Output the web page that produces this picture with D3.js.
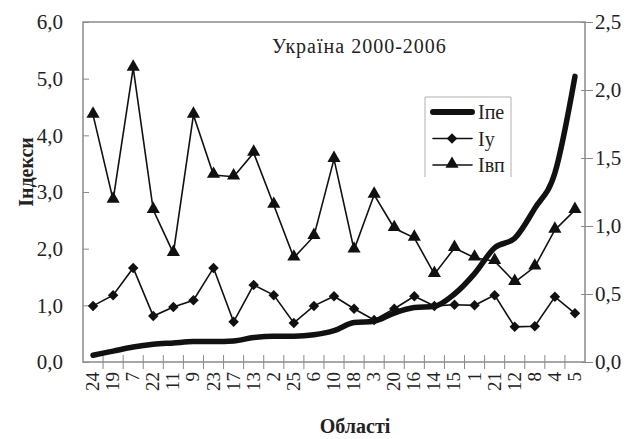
<!DOCTYPE html>
<html>
<head>
<meta charset="utf-8">
<script src="https://cdn.jsdelivr.net/npm/d3@7"></script>
<style>
  body { margin: 0; background: #fff; }
  text { font-family: "Liberation Serif", "Times New Roman", serif; fill: #222; }
</style>
</head>
<body>
<script>
// region codes in chart order
const regions = ["24","19","7","22","11","9","23","17","13","2","25","6","10","18","3","20","16","14","15","1","21","12","8","4","5"];
// Iпе, right axis
const ipe = [0.05,0.08,0.11,0.13,0.14,0.15,0.15,0.155,0.18,0.19,0.19,0.20,0.23,0.29,0.30,0.36,0.40,0.41,0.50,0.65,0.84,0.91,1.13,1.39,2.10];
// Iу, left axis
const iu = [0.99,1.18,1.66,0.81,0.97,1.09,1.66,0.71,1.36,1.18,0.69,0.99,1.16,0.94,0.74,0.94,1.16,0.99,1.01,1.0,1.18,0.62,0.63,1.15,0.86];
// Iвп, left axis
const ivp = [4.36,2.86,5.19,2.68,1.92,4.36,3.30,3.27,3.69,2.77,1.84,2.22,3.58,1.98,2.95,2.36,2.19,1.55,2.01,1.84,1.78,1.41,1.68,2.33,2.68];
const leftTicks = [0,1,2,3,4,5,6];
const rightTicks = [0,0.5,1,1.5,2,2.5];

const W = 630, H = 439;
const m = {left: 83, right: 45, top: 22, bottom: 77};

const svg = d3.select("body").append("svg").attr("width", W).attr("height", H);

const x = d3.scaleBand().domain(regions).range([m.left, W - m.right]);
const yL = d3.scaleLinear().domain([0, 6]).range([H - m.bottom, m.top]);
const yR = d3.scaleLinear().domain([0, 2.5]).range([H - m.bottom, m.top]);
const fmt = d => d3.format(".1f")(d).replace(".", ",");
const cx = d => x(d) + x.bandwidth() / 2;

// frame
svg.append("rect")
  .attr("x", m.left).attr("y", m.top)
  .attr("width", W - m.right - m.left).attr("height", H - m.bottom - m.top)
  .attr("fill", "none").attr("stroke", "#8a8a8a").attr("stroke-width", 1.5);

// left axis
const gl = svg.append("g").attr("transform", `translate(${m.left},0)`)
  .call(d3.axisLeft(yL).tickValues(leftTicks).tickFormat(fmt).tickSizeInner(6).tickSizeOuter(0).tickPadding(14));
gl.select(".domain").remove();
gl.selectAll(".tick line").attr("x2", 6).attr("stroke", "#8a8a8a");
gl.selectAll("text").attr("font-size", 21);

// right axis
const gr = svg.append("g").attr("transform", `translate(${W - m.right},0)`)
  .call(d3.axisRight(yR).tickValues(rightTicks).tickFormat(fmt).tickSizeInner(8).tickSizeOuter(0).tickPadding(2));
gr.select(".domain").remove();
gr.selectAll(".tick line").attr("x1", -4).attr("stroke", "#8a8a8a");
gr.selectAll("text").attr("font-size", 21);

// x axis, ticks on band boundaries
const gx = svg.append("g").attr("transform", `translate(0,${H - m.bottom})`);
gx.selectAll("line.b").data(regions.slice(1)).join("line")
  .attr("x1", d => x(d)).attr("x2", d => x(d))
  .attr("y1", -7).attr("y2", 7).attr("stroke", "#8a8a8a");
gx.selectAll("text").data(regions).join("text")
  .attr("transform", d => `translate(${cx(d) + 6},10) rotate(-90)`)
  .attr("text-anchor", "end").attr("font-size", 19)
  .text(d => d);

// series
const lineL = d3.line().x((d, i) => cx(regions[i])).y(d => yL(d));
const lineR = d3.line().x((d, i) => cx(regions[i])).y(d => yR(d)).curve(d3.curveMonotoneX);

svg.append("path").datum(ivp).attr("d", lineL)
  .attr("fill", "none").attr("stroke", "#111").attr("stroke-width", 1.6);
svg.append("path").datum(iu).attr("d", lineL)
  .attr("fill", "none").attr("stroke", "#111").attr("stroke-width", 1.6);
svg.append("path").datum(ipe).attr("d", lineR)
  .attr("fill", "none").attr("stroke", "#111").attr("stroke-width", 5.5)
  .attr("stroke-linecap", "round").attr("stroke-linejoin", "round");

const tri = d3.symbol().type(d3.symbolTriangle).size(75);
const dia = d3.symbol().type(d3.symbolSquare).size(55);

svg.selectAll("path.tri").data(ivp).join("path").attr("class", "tri")
  .attr("d", tri).attr("fill", "#111")
  .attr("transform", (d, i) => `translate(${cx(regions[i])},${yL(d) - 1})`);
svg.selectAll("path.dia").data(iu).join("path").attr("class", "dia")
  .attr("d", dia).attr("fill", "#111")
  .attr("transform", (d, i) => `translate(${cx(regions[i])},${yL(d)}) rotate(45)`);

// title
svg.append("text").attr("x", 272).attr("y", 53).attr("font-size", 20)
  .attr("letter-spacing", 1)
  .text("Україна 2000-2006");

// legend
const lg = svg.append("g");
lg.append("path").attr("d", "M425,177V97H511V177")
  .attr("fill", "none").attr("stroke", "#b0b0b0").attr("stroke-width", 1);
const items = [
  {name: "Iпе", w: 6, mark: null},
  {name: "Iу", w: 1.6, mark: dia},
  {name: "Iвп", w: 1.6, mark: tri}
];
items.forEach((it, k) => {
  const yy = 112 + k * 26.5;
  lg.append("line").attr("x1", 433).attr("x2", 472).attr("y1", yy).attr("y2", yy)
    .attr("stroke", "#111").attr("stroke-width", it.w).attr("stroke-linecap", "round");
  if (it.mark) {
    lg.append("path").attr("d", it.mark).attr("fill", "#111")
      .attr("transform", `translate(452,${yy - (k === 2 ? 1 : 0)})` + (k === 1 ? " rotate(45)" : ""));
  }
  lg.append("text").attr("x", 478).attr("y", yy + 7).attr("font-size", 20).text(it.name);
});

// axis titles
svg.append("text").attr("transform", "translate(33,172) rotate(-90)")
  .attr("text-anchor", "middle").attr("font-size", 20).attr("font-weight", "bold")
  .text("Індекси");
svg.append("text").attr("x", 355).attr("y", 433)
  .attr("text-anchor", "middle").attr("font-size", 20).attr("font-weight", "bold")
  .text("Області");
</script>
</body>
</html>
